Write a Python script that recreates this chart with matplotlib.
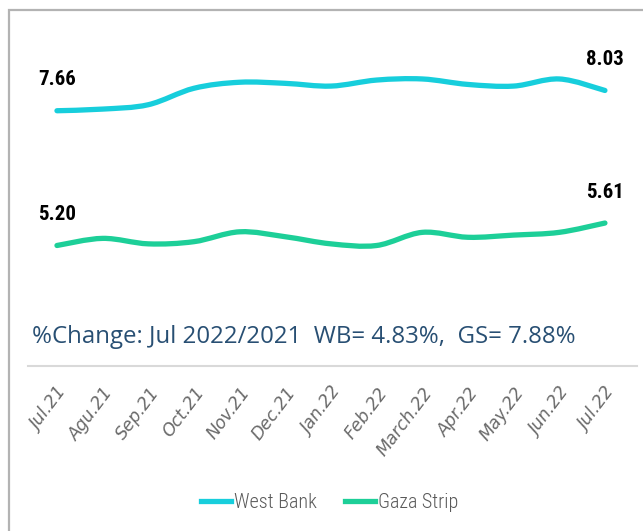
import numpy as np
import matplotlib
matplotlib.use("Agg")
import matplotlib.pyplot as plt
from matplotlib.path import Path
from matplotlib.patches import PathPatch, Rectangle
from matplotlib.lines import Line2D

months = ["Jul.21", "Agu.21", "Sep.21", "Oct.21", "Nov.21", "Dec.21", "Jan.22",
          "Feb.22", "March.22", "Apr.22", "May.22", "Jun.22", "Jul.22"]
west_bank = [7.66, 7.69, 7.77, 8.07, 8.18, 8.16, 8.11, 8.22, 8.24, 8.14, 8.11, 8.24, 8.03]
gaza_strip = [5.20, 5.33, 5.23, 5.27, 5.45, 5.36, 5.23, 5.20, 5.44, 5.35, 5.39, 5.44, 5.61]
series_names = ["West Bank", "Gaza Strip"]
note = "%Change: Jul 2022/2021  WB= 4.83%,  GS= 7.88%"

wb_color = "#17CEDC"
gs_color = "#1DCF98"
narrow = ["Roboto Condensed", "DejaVu Sans"]


def smooth_path(xs, ys):
    # Catmull-Rom style bezier, like Excel's smoothed line
    pts = np.column_stack([xs, ys]).astype(float)
    n = len(pts)
    verts = [pts[0]]
    codes = [Path.MOVETO]
    for i in range(n - 1):
        p0 = pts[i - 1] if i > 0 else pts[i]
        p1 = pts[i]
        p2 = pts[i + 1]
        p3 = pts[i + 2] if i + 2 < n else pts[i + 1]
        c1 = p1 + (p2 - p0) / 6.0
        c2 = p2 - (p3 - p1) / 6.0
        verts += [c1, c2, p2]
        codes += [Path.CURVE4] * 3
    return Path(verts, codes)


fig = plt.figure(figsize=(6.43, 5.31), dpi=100)
ax = fig.add_axes([0.0435, 0.3107, 0.947, 0.619])

x = np.arange(len(months))
for vals, col in [(west_bank, wb_color), (gaza_strip, gs_color)]:
    patch = PathPatch(smooth_path(x, vals), facecolor="none", edgecolor=col,
                      lw=3.8, capstyle="round", joinstyle="round")
    ax.add_patch(patch)
    for i in (0, len(vals) - 1):
        ax.annotate(f"{vals[i]:.2f}", (x[i], vals[i]), xytext=(0, 31),
                    textcoords="offset pixels", ha="center", va="center",
                    fontsize=15, fontweight="bold", family=narrow, color="black")

ax.set_xlim(-0.635, 12.70)
ax.set_ylim(3, 9)
ax.set_yticks([])
ax.set_xticks(x)
ax.set_xticklabels(months, rotation=53, ha="right", va="top",
                   rotation_mode="anchor", fontsize=12.5, style="oblique",
                   fontweight="normal", color="#6a6a6a", family="DejaVu Sans")
ax.tick_params(axis="x", length=0, pad=13)
for s in ["top", "left", "right"]:
    ax.spines[s].set_visible(False)
ax.spines["bottom"].set_color("#d9d9d9")
ax.spines["bottom"].set_linewidth(1.5)

fig.text(32 / 643, 1 - 337 / 531, note, ha="left", va="center", fontsize=17.3,
         color="#284F73", family=["Open Sans", "DejaVu Sans"])

handles = [Line2D([], [], color=wb_color, lw=3.8), Line2D([], [], color=gs_color, lw=3.8)]
fig.legend(handles, series_names, loc="center", bbox_to_anchor=(0.513, 0.053),
           ncol=2, frameon=False, handlelength=1.5, handletextpad=0.15,
           columnspacing=1.4, prop={"family": narrow, "size": 14.5, "weight": "light"},
           labelcolor="#595959")

fig.add_artist(Rectangle((9 / 643, -0.1), 1.1, 1.1 - 10 / 531, fill=False,
                         ec="#b3b3b3", lw=1.6, transform=fig.transFigure))

fig.savefig("out.png", dpi=100)
